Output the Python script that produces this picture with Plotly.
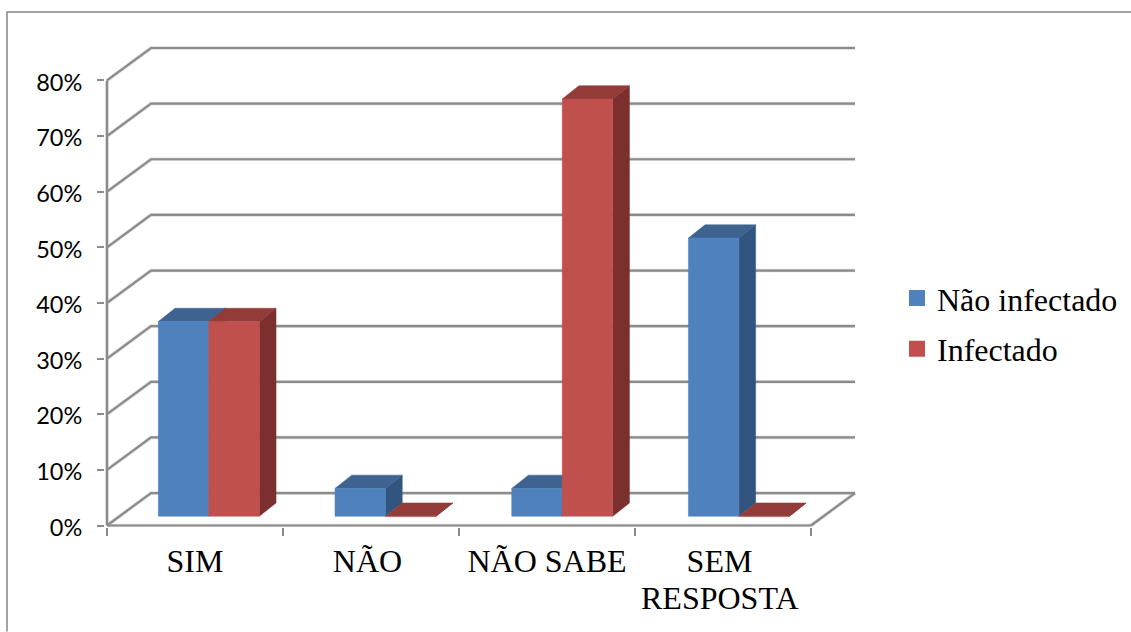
import plotly.graph_objects as go

# Chart content
categories = ["SIM", "NÃO", "NÃO SABE", "SEM RESPOSTA"]
nao_infectado = [35, 5, 5, 50]
infectado = [35, 0, 75, 0]
y_ticks = [0, 10, 20, 30, 40, 50, 60, 70, 80]
y_tick_labels = ["0%", "10%", "20%", "30%", "40%", "50%", "60%", "70%", "80%"]
series_names = ["Não infectado", "Infectado"]

# Oblique projection: a point at depth d (0 front, 1 back) moves right and up
DEPTH_X = 0.25      # category units
DEPTH_Y = 5.83      # percentage points
BAR_SKEW_X = 0.232  # bars recede slightly more steeply than the frame
BAR_START = 0.22
BAR_STEP = 1.004
BAR_WIDTH = 0.287
DEPTH_FRONT = 0.286
DEPTH_BACK = 0.695

GRID = "#8b8b8b"
GRID_SOFT = "#dddddd"
FACE = [("#4f81bd", "#3e6391", "#32557f"), ("#c0504d", "#933b39", "#7b302e")]

W, H = 1131, 632
# Plot area, with slack around the frame so its lines are not clipped
L, R, T, B = 105, 865, 38, 527.5
PX_PER_CAT = 176
PX_PER_PCT = 5.569
X_RANGE = [-2 / PX_PER_CAT, 4.25 + 10 / PX_PER_CAT]
Y_RANGE = [-1.5 / PX_PER_PCT, 80 + DEPTH_Y + 10 / PX_PER_PCT]


def px(x, y, depth):
    return x + depth * DEPTH_X, y + depth * DEPTH_Y


def bar_pt(x, y, depth):
    shift = DEPTH_FRONT * DEPTH_X + (depth - DEPTH_FRONT) * BAR_SKEW_X
    return x + shift, y + depth * DEPTH_Y


def polygon(points, color):
    xs = [p[0] for p in points] + [points[0][0]]
    ys = [p[1] for p in points] + [points[0][1]]
    return go.Scatter(x=xs, y=ys, mode="lines", fill="toself", fillcolor=color,
                      line=dict(color=color, width=0.5), hoverinfo="skip", showlegend=False)


fig = go.Figure()

# Walls and floor of the 3D frame
grid_x, grid_y = [], []
for v in y_ticks:
    for a in (px(0, v, 0), px(0, v, 1), px(4, v, 1)):
        grid_x.append(a[0])
        grid_y.append(a[1])
    grid_x.append(None)
    grid_y.append(None)
for a, b in ((px(0, 0, 0), px(4, 0, 0)), (px(4, 0, 0), px(4, 0, 1)), (px(0, 0, 0), px(0, 80, 0))):
    grid_x += [a[0], b[0], None]
    grid_y += [a[1], b[1], None]
fig.add_trace(go.Scatter(x=grid_x, y=grid_y, mode="lines", line=dict(color=GRID_SOFT, width=3.6),
                         hoverinfo="skip", showlegend=False))
fig.add_trace(go.Scatter(x=grid_x, y=grid_y, mode="lines", line=dict(color=GRID, width=2.2),
                         hoverinfo="skip", showlegend=False))

# Bars, painted back to front so nearer faces hide farther ones
for i in range(len(categories)):
    for s, values in enumerate((nao_infectado, infectado)):
        v = values[i]
        x0 = i * BAR_STEP + BAR_START + s * BAR_WIDTH
        x1 = x0 + BAR_WIDTH
        front_col, top_col, side_col = FACE[s]
        fig.add_trace(polygon([bar_pt(x1, 0, DEPTH_FRONT), bar_pt(x1, 0, DEPTH_BACK),
                               bar_pt(x1, v, DEPTH_BACK), bar_pt(x1, v, DEPTH_FRONT)], side_col))
        fig.add_trace(polygon([bar_pt(x0, v, DEPTH_FRONT), bar_pt(x1, v, DEPTH_FRONT),
                               bar_pt(x1, v, DEPTH_BACK), bar_pt(x0, v, DEPTH_BACK)], top_col))
        fig.add_trace(polygon([bar_pt(x0, 0, DEPTH_FRONT), bar_pt(x1, 0, DEPTH_FRONT),
                               bar_pt(x1, v, DEPTH_FRONT), bar_pt(x0, v, DEPTH_FRONT)], front_col))

# Legend entries
for name, colors in zip(series_names, FACE):
    fig.add_trace(go.Scatter(x=[None], y=[None], mode="markers", name=name, legendgroup=name,
                             marker=dict(symbol="square", size=16, color=colors[0])))

# Category labels: first word on the axis, a second line as an annotation
label_pos = [0.5, 1.48, 2.5, 3.48]
first_lines = [c if c != "SEM RESPOSTA" else "SEM" for c in categories]

fig.add_annotation(x=label_pos[3], y=0, xref="x", yref="y", text="RESPOSTA", showarrow=False,
                   yshift=-72, font=dict(family="Liberation Serif", size=32, color="#000000"))

# Thin outer border on the left and top edges
frame_x = [(7 - L) / (R - L), (7 - L) / (R - L), (W - L) / (R - L)]
frame_y = [(B - H) / (B - T), (B - 12) / (B - T), (B - 12) / (B - T)]
fig.add_shape(type="path", xref="paper", yref="paper",
              path=f"M {frame_x[0]} {frame_y[0]} L {frame_x[1]} {frame_y[1]} L {frame_x[2]} {frame_y[2]}",
              line=dict(color="#868686", width=1.5))

fig.update_layout(
    width=W, height=H,
    margin=dict(l=L, r=W - R, t=T, b=H - B, pad=0, autoexpand=False),
    paper_bgcolor="white", plot_bgcolor="white",
    hovermode=False,
    xaxis=dict(range=X_RANGE, showgrid=False, zeroline=False, showline=False,
               tickmode="array", tickvals=label_pos, ticktext=first_lines, ticks="",
               ticklabelstandoff=12,
               tickfont=dict(family="Liberation Serif", size=32, color="#000000"),
               minor=dict(tickmode="array", tickvals=[0, 1, 2, 3, 4], ticks="outside",
                          ticklen=7.5, tickwidth=2, tickcolor=GRID, showgrid=False)),
    yaxis=dict(range=Y_RANGE, showgrid=False, zeroline=False, showline=False,
               tickmode="array", tickvals=y_ticks, ticktext=y_tick_labels, ticks="outside",
               ticklen=7, tickwidth=2, tickcolor=GRID, ticklabelstandoff=10, ticklabelshift=2,
               tickfont=dict(family="Lato", size=23.5, color="#000000")),
    legend=dict(x=(897 - L) / (R - L), y=(B - 271) / (B - T), xanchor="left", yanchor="top",
                tracegroupgap=6, borderwidth=0, bgcolor="rgba(0,0,0,0)",
                font=dict(family="Liberation Serif", size=32, color="#000000")),
    showlegend=True,
)

fig.write_html("out.html")
